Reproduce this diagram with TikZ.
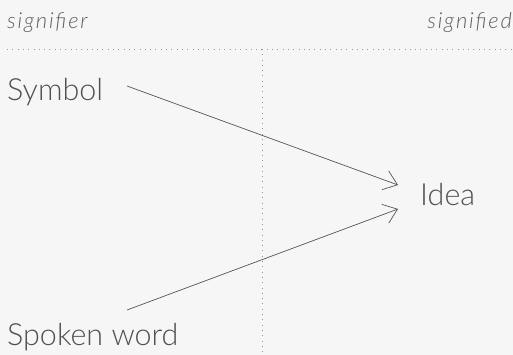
\documentclass[tikz,border=0pt]{standalone}
\usepackage{fontspec}
\setmainfont{Lato}[UprightFont=* Light, ItalicFont=* Light Italic]
\newfontfamily\hdrfont{Lato}[UprightFont=* Light Italic, LetterSpace=8]
\usetikzlibrary{arrows.meta}
\definecolor{bg}{RGB}{246,246,246}
\definecolor{txt}{RGB}{80,80,80}
\definecolor{hdrc}{RGB}{95,95,95}
\definecolor{ln}{RGB}{85,85,85}
\definecolor{dotc}{RGB}{150,150,150}
\tikzset{
  lbl/.style={inner sep=0pt, text=txt, font=\fontsize{30.5}{33}\selectfont},
  hdr/.style={inner sep=0pt, text=hdrc, font=\hdrfont\fontsize{22}{25}\selectfont},
  arr/.style={draw=ln, line width=0.7pt, -{Straight Barb[length=13pt,width=20pt,line width=0.7pt]}},
  dots/.style={draw=dotc, line width=0.8pt, dash pattern=on 0.8pt off 4.5pt}
}
\begin{document}
\begin{tikzpicture}[x=1pt,y=-1pt]
\fill[bg] (0,0) rectangle (513,355);
\useasboundingbox (0,0) rectangle (513,355);
\node[hdr, anchor=base west] (sigr) at (7,29) {signifier};
\node[hdr, anchor=base east] (sigd) at (512,29) {signified};
\coordinate (hl) at (7,49);
\coordinate (hr) at (513,49);
\coordinate (vt) at (262,49);
\coordinate (vb) at (262,355);
\draw[dots] (hl) -- (hr);
\draw[dots] (vt) -- (vb);
\node[lbl, anchor=base west] (sym) at (7,101) {Symbol};
\node[lbl, anchor=base west] (spk) at (7,345) {Spoken word};
\node[lbl, anchor=base west] (idea) at (420,205) {Idea};
\coordinate (s1) at (127,86);
\coordinate (s2) at (127,310);
\coordinate (t1) at (398,185);
\coordinate (t2) at (398,209);
\draw[arr] (s1) -- (t1);
\draw[arr] (s2) -- (t2);
\end{tikzpicture}
\end{document}
